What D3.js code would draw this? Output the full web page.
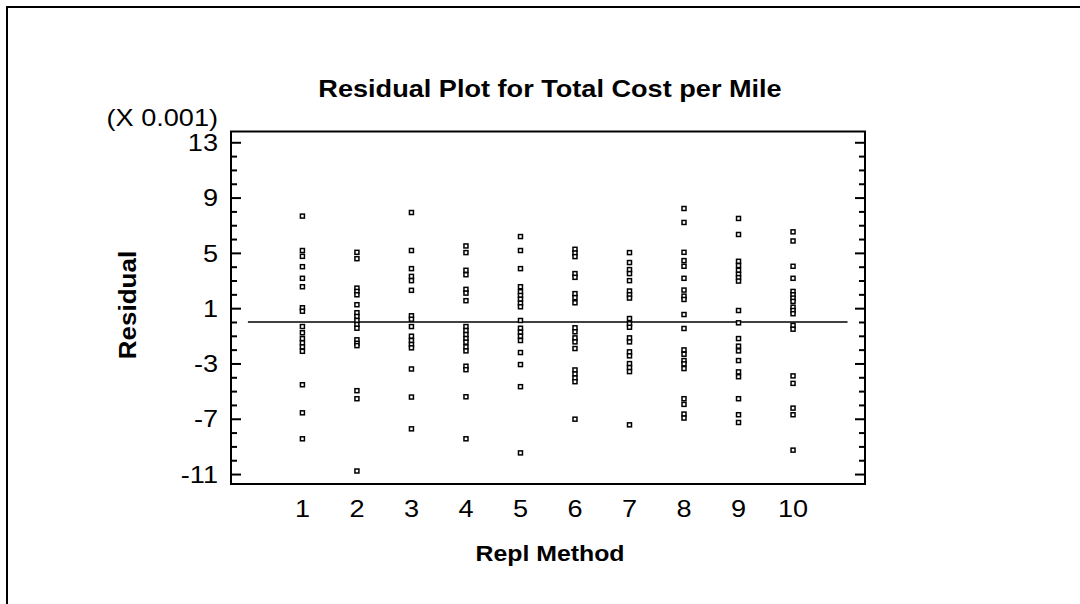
<!DOCTYPE html>
<html>
<head>
<meta charset="utf-8">
<script src="https://cdn.jsdelivr.net/npm/d3@7"></script>
<style>
  html, body { margin: 0; padding: 0; background: #fff; }
  svg { display: block; }
  text { font-family: "Liberation Sans", Arial, sans-serif; fill: #000; }
</style>
</head>
<body>
<svg id="chart" width="1080" height="604"></svg>
<script>
// Replacement methods on the x axis
const methods = [1, 2, 3, 4, 5, 6, 7, 8, 9, 10];

// Residuals (in units of 0.001) for each replacement method
const residualsM1  = [7.66, 5.17, 4.75, 4.0, 3.16, 2.55, 1.03, 0.78, -0.33, -0.78, -1.2, -1.51, -1.8, -2.12, -4.54, -6.57, -8.45];
const residualsM2  = [5.04, 4.58, 2.45, 2.21, 1.97, 1.25, 0.67, 0.4, 0.11, -0.18, -0.45, -1.29, -1.54, -1.71, -4.97, -5.55, -10.78];
const residualsM3  = [7.92, 5.17, 3.86, 3.3, 2.99, 2.29, 0.45, 0.2, -0.33, -1.03, -1.34, -1.63, -1.87, -3.4, -5.43, -7.73];
const residualsM4  = [5.5, 5.02, 3.74, 3.42, 2.36, 2.09, 1.54, -0.33, -0.62, -0.91, -1.2, -1.46, -1.8, -2.09, -3.2, -3.45, -5.41, -8.45];
const residualsM5  = [6.18, 5.17, 3.86, 2.55, 2.19, 1.92, 1.65, 1.36, 1.1, 0.11, -0.45, -0.74, -1.03, -1.34, -2.21, -3.08, -4.68, -9.47];
const residualsM6  = [5.26, 4.99, 4.73, 3.5, 3.23, 2.05, 1.76, 1.39, -0.42, -0.71, -1.15, -1.44, -1.92, -3.47, -3.76, -4.05, -4.32, -7.03];
const residualsM7  = [5.02, 4.3, 3.79, 3.5, 2.99, 2.24, 1.97, 1.73, 0.25, -0.13, -0.38, -1.15, -1.44, -2.16, -2.45, -3.01, -3.3, -3.59, -7.44];
const residualsM8  = [8.21, 7.2, 5.04, 4.44, 4.03, 3.16, 2.31, 1.87, 1.63, 0.54, -0.47, -2.02, -2.33, -2.79, -3.03, -3.37, -5.55, -5.96, -6.66, -6.95];
const residualsM9  = [7.49, 6.33, 4.39, 4.08, 3.74, 3.45, 3.21, 2.96, 0.83, -0.06, -1.2, -1.75, -2.09, -2.79, -3.61, -3.96, -5.55, -6.71, -7.27];
const residualsM10 = [6.52, 5.86, 4.03, 3.16, 2.21, 1.97, 1.73, 1.49, 1.07, 0.83, 0.6, -0.25, -0.52, -3.9, -4.44, -6.23, -6.71, -9.27];

const residualSets = [residualsM1, residualsM2, residualsM3, residualsM4, residualsM5,
                      residualsM6, residualsM7, residualsM8, residualsM9, residualsM10];

// Labelled and unlabelled y ticks
const yMajorTicks = [13, 9, 5, 1, -3, -7, -11];
const yMinorTicks = d3.range(-11, 14, 1).filter(v => !yMajorTicks.includes(v));

const titleText = "Residual Plot for Total Cost per Mile";
const xLabel = "Repl Method";
const yLabel = "Residual";
const scaleNote = "(X 0.001)";

// Text is drawn slightly widened, like the original plotting program's output
const STRETCH = 1.13;

const svg = d3.select("#chart");

// Outer frame
svg.append("rect")
  .attr("x", 7).attr("y", 7)
  .attr("width", 1100).attr("height", 620)
  .attr("fill", "none").attr("stroke", "#000").attr("stroke-width", 2);

const plot = { left: 231, right: 865, top: 131.5, bottom: 484 };

const x = d3.scaleLinear().domain([-0.31, 11.32]).range([plot.left, plot.right]);
const y = d3.scaleLinear().domain([-11.72, 13.78]).range([plot.bottom, plot.top]);

// Inward ticks on both vertical sides of the frame
const leftMajor = d3.axisRight(y).tickValues(yMajorTicks).tickSize(10).tickFormat("");
const leftMinor = d3.axisRight(y).tickValues(yMinorTicks).tickSize(6).tickFormat("");
const rightMajor = d3.axisLeft(y).tickValues(yMajorTicks).tickSize(10).tickFormat("");
const rightMinor = d3.axisLeft(y).tickValues(yMinorTicks).tickSize(6).tickFormat("");

function styleAxis(g) {
  g.select(".domain").remove();
  g.selectAll(".tick line").attr("stroke", "#000").attr("stroke-width", 2);
}

svg.append("g").attr("transform", `translate(${plot.left},0)`).call(leftMajor).call(styleAxis);
svg.append("g").attr("transform", `translate(${plot.left},0)`).call(leftMinor).call(styleAxis);
svg.append("g").attr("transform", `translate(${plot.right},0)`).call(rightMajor).call(styleAxis);
svg.append("g").attr("transform", `translate(${plot.right},0)`).call(rightMinor).call(styleAxis);

// Y tick labels
svg.append("g").selectAll("text")
  .data(yMajorTicks)
  .join("text")
  .attr("transform", d => `translate(218,${y(d)}) scale(${STRETCH},1)`)
  .attr("dy", "0.36em")
  .attr("text-anchor", "end")
  .attr("font-size", 24)
  .text(d => d);

// X tick labels
svg.append("g").selectAll("text")
  .data(methods)
  .join("text")
  .attr("transform", d => `translate(${x(d)},517) scale(${STRETCH},1)`)
  .attr("text-anchor", "middle")
  .attr("font-size", 24)
  .text(d => d);

// Zero reference line
svg.append("line")
  .attr("x1", x(0)).attr("x2", x(11))
  .attr("y1", y(0)).attr("y2", y(0))
  .attr("stroke", "#000").attr("stroke-width", 1.6);

// Residual points
const points = [];
methods.forEach((m, i) => residualSets[i].forEach(v => points.push({ m, v })));

svg.append("g").selectAll("rect")
  .data(points)
  .join("rect")
  .attr("x", d => x(d.m) - 2)
  .attr("y", d => y(d.v) - 2)
  .attr("width", 4).attr("height", 4)
  .attr("fill", "#fff")
  .attr("stroke", "#000")
  .attr("stroke-width", 1.5);

// Plot frame
svg.append("rect")
  .attr("x", plot.left).attr("y", plot.top)
  .attr("width", plot.right - plot.left).attr("height", plot.bottom - plot.top)
  .attr("fill", "none").attr("stroke", "#000").attr("stroke-width", 2);

// Titles
svg.append("text")
  .attr("transform", `translate(550,97) scale(${STRETCH},1)`)
  .attr("text-anchor", "middle")
  .attr("font-size", 24).attr("font-weight", "bold")
  .text(titleText);

svg.append("text")
  .attr("transform", `translate(218,126) scale(${STRETCH},1)`)
  .attr("text-anchor", "end")
  .attr("font-size", 24)
  .text(scaleNote);

svg.append("text")
  .attr("transform", `translate(550,561) scale(${STRETCH},1)`)
  .attr("text-anchor", "middle")
  .attr("font-size", 22).attr("font-weight", "bold")
  .text(xLabel);

svg.append("text")
  .attr("transform", `translate(136,305) rotate(-90) scale(${STRETCH},1)`)
  .attr("text-anchor", "middle")
  .attr("font-size", 23).attr("font-weight", "bold")
  .text(yLabel);
</script>
</body>
</html>
